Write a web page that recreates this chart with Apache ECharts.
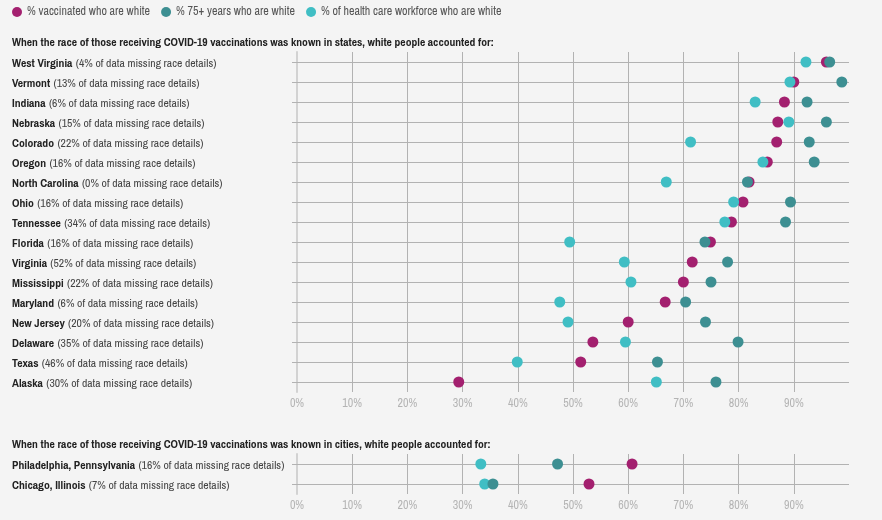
<!DOCTYPE html>
<html>
<head>
<meta charset="utf-8">
<script src="https://cdn.jsdelivr.net/npm/echarts@6/dist/echarts.min.js"></script>
<style>
  html, body { margin: 0; padding: 0; background: #f4f4f4; }
  #main { width: 882px; height: 520px; }
</style>
</head>
<body>
<div id="main"></div>
<script>
// states panel
var states = ['West Virginia', 'Vermont', 'Indiana', 'Nebraska', 'Colorado', 'Oregon', 'North Carolina', 'Ohio',
  'Tennessee', 'Florida', 'Virginia', 'Mississippi', 'Maryland', 'New Jersey', 'Delaware', 'Texas', 'Alaska']
var stateMissing = [4, 13, 6, 15, 22, 16, 0, 16, 34, 16, 52, 22, 6, 20, 35, 46, 30]
var stateVaccinated = [95.9, 90.0, 88.3, 87.1, 86.9, 85.2, 81.9, 80.8, 78.7, 74.9, 71.6, 70.0, 66.7, 60.0, 53.6, 51.4, 29.3]
var stateSeniors = [96.5, 98.7, 92.4, 95.9, 92.8, 93.7, 81.6, 89.4, 88.5, 73.9, 78.0, 75.0, 70.4, 74.0, 79.9, 65.3, 75.9]
var stateHealth = [92.2, 89.3, 83.0, 89.1, 71.3, 84.4, 66.9, 79.1, 77.5, 49.4, 59.3, 60.5, 47.6, 49.1, 59.5, 39.9, 65.1]

// cities panel
var cities = ['Philadelphia, Pennsylvania', 'Chicago, Illinois']
var cityMissing = [16, 7]
var cityVaccinated = [60.7, 52.9]
var citySeniors = [47.2, 35.5]
var cityHealth = [33.3, 34.0]

var xTicks = [0, 10, 20, 30, 40, 50, 60, 70, 80, 90]

var names = ['% vaccinated who are white', '% 75+ years who are white', '% of health care workforce who are white']
var colors = ['#a3206f', '#3d8f92', '#40bec4']
var font = "'Archivo Narrow', 'Roboto Condensed', sans-serif"
var gridColor = '#b2b2b2'

var chart = echarts.init(document.getElementById('main'))

function yAxisFor(cats, missing, gridIndex) {
  return {
    type: 'category',
    gridIndex: gridIndex,
    data: cats,
    inverse: true,
    axisLine: { show: true, lineStyle: { color: '#d2d2d2', width: 2 } },
    axisTick: { show: true, alignWithLabel: true, length: 5, lineStyle: { color: gridColor } },
    splitLine: { show: false },
    axisLabel: {
      align: 'left',
      margin: 285,
      formatter: function (value, idx) {
        return '{b|' + value + '} {n|(' + missing[idx] + '% of data missing race details)}'
      },
      rich: {
        b: { fontFamily: font, fontWeight: 'bold', fontSize: 11.7, color: '#222', padding: [4, 0, 0, 0] },
        n: { fontFamily: font, fontSize: 11.7, color: '#444', padding: [4, 0, 0, 0] }
      }
    }
  }
}

function xAxisFor(gridIndex) {
  return {
    type: 'value',
    gridIndex: gridIndex,
    min: 0,
    max: 100,
    interval: 10,
    axisLine: { show: false },
    axisTick: { show: false },
    splitLine: { show: true, showMaxLine: false, lineStyle: { color: gridColor, width: 1 } },
    axisLabel: {
      showMaxLabel: false,
      margin: 6,
      color: '#b4b4b4',
      fontFamily: font,
      fontSize: 12,
      formatter: function (v) { return xTicks.indexOf(v) >= 0 ? v + '%' : '' }
    }
  }
}

function dots(name, color, cats, vals, idx, withRows) {
  var s = {
    name: name,
    type: 'scatter',
    xAxisIndex: idx,
    yAxisIndex: idx,
    symbolSize: 11,
    itemStyle: { color: color, opacity: 1 },
    data: vals.map(function (v, i) { return [v, cats[i]] }),
    z: 3
  }
  if (withRows) {
    // row lines sit under the dots
    s.markLine = {
      silent: true,
      z: 1,
      symbol: 'none',
      animation: false,
      label: { show: false },
      lineStyle: { color: gridColor, width: 1, type: 'solid' },
      data: cats.map(function (c) { return { yAxis: c } })
    }
  }
  return s
}

chart.setOption({
  backgroundColor: '#f4f4f4',
  animation: false,
  legend: {
    data: names,
    left: 7,
    top: 1,
    icon: 'circle',
    itemWidth: 10,
    itemHeight: 10,
    itemGap: 11,
    textStyle: { color: '#555', fontFamily: font, fontSize: 12 }
  },
  title: [
    {
      text: 'When the race of those receiving COVID-19 vaccinations was known in states, white people accounted for:',
      left: 7, top: 32,
      textStyle: { fontFamily: font, fontWeight: 'bold', fontSize: 11.6, color: '#222' }
    },
    {
      text: 'When the race of those receiving COVID-19 vaccinations was known in cities, white people accounted for:',
      left: 7, top: 434,
      textStyle: { fontFamily: font, fontWeight: 'bold', fontSize: 11.6, color: '#222' }
    }
  ],
  grid: [
    { left: 297, right: 33, top: 52, height: 340 },
    { left: 297, right: 33, top: 454, height: 40 }
  ],
  xAxis: [xAxisFor(0), xAxisFor(1)],
  yAxis: [yAxisFor(states, stateMissing, 0), yAxisFor(cities, cityMissing, 1)],
  series: [
    dots(names[0], colors[0], states, stateVaccinated, 0, true),
    dots(names[2], colors[2], states, stateHealth, 0, false),
    dots(names[1], colors[1], states, stateSeniors, 0, false),
    dots(names[0], colors[0], cities, cityVaccinated, 1, true),
    dots(names[2], colors[2], cities, cityHealth, 1, false),
    dots(names[1], colors[1], cities, citySeniors, 1, false)
  ]
})
</script>
</body>
</html>
